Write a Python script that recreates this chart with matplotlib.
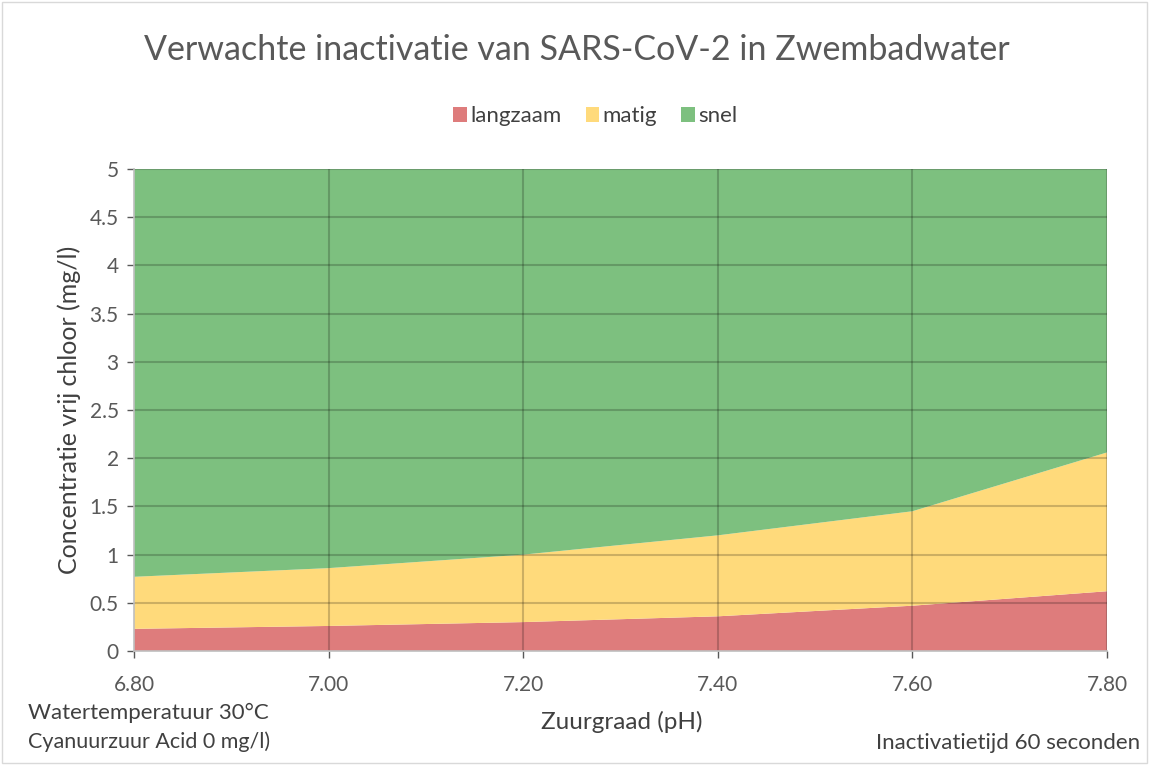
import matplotlib.pyplot as plt
from matplotlib.patches import Rectangle

# pH values and chlorine thresholds (mg/l)
ph = [6.8, 7.0, 7.2, 7.4, 7.6, 7.8]
langzaam = [0.23, 0.26, 0.30, 0.36, 0.47, 0.62]
matig_top = [0.77, 0.86, 1.00, 1.20, 1.45, 2.06]
y_max = 5.0

labels = ['langzaam', 'matig', 'snel']
colors = ['#DE7C7C', '#FFDA7B', '#7DC07F']
x_ticks = [6.8, 7.0, 7.2, 7.4, 7.6, 7.8]
y_ticks = [0, 0.5, 1, 1.5, 2, 2.5, 3, 3.5, 4, 4.5, 5]

plt.rcParams['font.family'] = ['Lato', 'DejaVu Sans']

matig = [t - l for t, l in zip(matig_top, langzaam)]
snel = [y_max - t for t in matig_top]

fig = plt.figure(figsize=(11.49, 7.65), dpi=100)
ax = fig.add_axes([0.1166, 0.149, 0.8468, 0.630])

ax.stackplot(ph, langzaam, matig, snel, colors=colors, labels=labels, zorder=1)

# gridlines drawn on top, darkening the fill like in the original
for x in x_ticks[1:]:
    ax.axvline(x, color='black', alpha=0.2, lw=1.5, zorder=2)
for y in y_ticks[1:]:
    ax.axhline(y, color='black', alpha=0.2, lw=1.5, zorder=2)

ax.set_xlim(6.8, 7.8)
ax.set_ylim(0, 5)
ax.set_xticks(x_ticks)
ax.set_xticklabels([f'{v:.2f}' for v in x_ticks])
ax.set_yticks(y_ticks)
ax.set_yticklabels([f'{v:g}' for v in y_ticks])
ax.tick_params(colors='#595959', labelsize=15, length=5, width=1, pad=6)
ax.tick_params(axis='x', pad=12)
for side in ['top', 'right']:
    ax.spines[side].set_visible(False)
for side in ['left', 'bottom']:
    ax.spines[side].set_color('#BFBFBF')
    ax.spines[side].set_linewidth(1.2)

ax.set_ylabel('Concentratie vrij chloor (mg/l)', fontsize=18, color='#404040', labelpad=6)

fig.text(0.502, 0.934, 'Verwachte inactivatie van SARS-CoV-2 in Zwembadwater',
         ha='center', va='center', fontsize=24.5, color='#595959')
fig.legend(loc='center', bbox_to_anchor=(0.518, 0.848), ncol=3, frameon=False,
           fontsize=16, handlelength=0.6, handleheight=0.6, columnspacing=1.1,
           handletextpad=0.15, labelcolor='#404040')

fig.text(0.541, 0.056, 'Zuurgraad (pH)', ha='center', va='center', fontsize=17.5, color='#404040')
fig.text(0.024, 0.068, 'Watertemperatuur 30°C', ha='left', va='center', fontsize=16, color='#404040')
fig.text(0.024, 0.030, 'Cyanuurzuur Acid 0 mg/l)', ha='left', va='center', fontsize=15.5, color='#404040')
fig.text(0.992, 0.029, 'Inactivatietijd 60 seconden', ha='right', va='center', fontsize=16, color='#404040')

fig.patches.append(Rectangle((0.002, 0.002), 0.996, 0.996, transform=fig.transFigure,
                             fill=False, edgecolor='#D9D9D9', lw=1))

fig.savefig('out.png', dpi=100)
